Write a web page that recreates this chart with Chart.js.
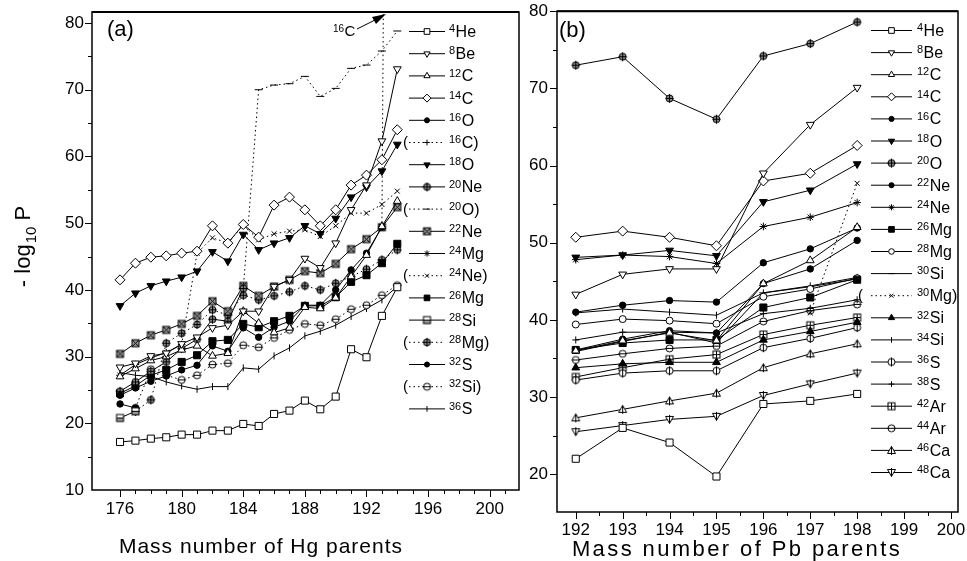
<!DOCTYPE html>
<html>
<head>
<meta charset="utf-8">
<script src="https://cdn.jsdelivr.net/npm/chart.js@4.4.1/dist/chart.umd.min.js"></script>
<style>
  html, body { margin: 0; padding: 0; background: #fff; }
  #wrap { position: relative; width: 967px; height: 561px; overflow: hidden; }
  #ca { position: absolute; left: 0; top: 0; }
  #cb { position: absolute; left: 490px; top: 0; }
</style>
</head>
<body>
<div id="wrap">
  <canvas id="ca" width="525" height="561"></canvas>
  <canvas id="cb" width="477" height="561"></canvas>
</div>
<script>
// ---- panel (a): Hg parents ----
const hgMass = [176,177,178,179,180,181,182,183,184,185,186,187,188,189,190,191,192,193,194];
const hgHe4  = [17.2,17.4,17.7,17.9,18.3,18.3,18.9,18.9,19.9,19.6,21.4,21.9,23.4,22.1,24.0,31.1,29.9,36.1,40.4];
const hgBe8  = [28.4,29.0,30.1,30.5,31.9,32.9,34.3,34.7,36.8,36.8,40.5,41.5,44.7,43.3,47.0,52.0,55.7,62.3,73.1];
const hgC12  = [27.0,28.2,29.4,30.0,31.0,31.6,30.1,30.5,36.8,35.0,33.6,34.3,37.4,37.2,38.8,42.0,45.2,49.5,53.3];
const hgC14  = [41.5,44.0,44.9,45.1,45.5,45.8,49.6,47.0,49.8,47.9,52.7,53.9,52.0,49.6,52.0,55.7,57.2,59.5,64.0];
const hgO16  = [24.2,25.3,26.3,27.1,28.0,28.7,31.6,30.8,34.3,32.9,34.4,35.3,37.7,37.7,40.0,43.0,45.5,49.4,null];
const hgC16  = [null,null,null,null,null,null,null,null,null,null,null,null,null,null,null,null,null,49.4,400];
const hgO18  = [37.6,39.5,40.6,41.3,41.9,42.8,45.7,44.3,48.3,46.0,47.0,47.8,49.6,48.4,50.7,53.9,55.4,57.8,61.8];
const hgNe20 = [24.8,26.2,27.8,29.2,31.2,32.6,35.6,35.3,40.2,null,null,null,null,null,null,null,null,null,null];
const hgO20  = [null,null,null,null,null,null,null,null,40.2,70.0,70.7,70.9,72.0,69.0,70.2,73.2,73.7,75.8,78.8];
const hgNe22 = [30.4,32.0,33.2,34.0,34.9,36.1,38.3,36.8,40.6,39.1,40.5,41.5,42.8,42.5,43.9,46.1,47.6,49.4,52.4];
const hgMg24 = [27.2,28.8,29.8,30.6,31.8,null,null,null,null,null,null,null,null,null,null,null,null,null,null];
const hgNe24 = [null,null,null,null,31.8,45.5,47.8,47.0,49.7,47.5,48.4,48.8,49.0,48.0,49.6,51.5,51.5,52.8,54.8];
const hgMg26 = [24.5,25.6,27.2,28.0,29.2,30.2,32.3,32.5,34.9,34.4,35.3,36.1,37.6,37.6,38.9,41.2,42.2,44.0,46.9];
const hgSi28 = [20.8,21.8,null,null,null,null,null,null,null,null,null,null,null,null,null,null,null,null,null];
const hgMg28 = [null,21.8,23.5,32.0,33.5,34.8,37.0,36.2,39.2,38.5,39.1,39.7,40.6,40.0,41.0,42.0,43.1,44.5,46.0];
const hgS32  = [22.9,22.3,null,null,null,null,null,null,null,null,null,null,null,null,null,null,null,null,null];
const hgSi32 = [null,22.3,28.1,27.2,26.5,27.2,28.8,29.0,31.7,31.4,32.8,34.0,34.9,34.7,35.6,37.1,37.7,39.2,40.7];
const hgS36  = [27.6,27.2,27.0,26.2,25.6,25.1,25.5,25.5,28.3,28.1,30.1,31.3,33.1,33.8,34.7,36.0,37.2,38.5,40.5];
const hgXTicks = [176,180,184,188,192,196,200];
const hgYTicks = [10,20,30,40,50,60,70,80];

// ---- panel (b): Pb parents ----
const pbMass = [192,193,194,195,196,197,198];
const pbHe4  = [22.0,26.0,24.1,19.7,29.1,29.5,30.4];
const pbBe8  = [43.3,45.9,46.6,46.6,59.0,65.3,70.1];
const pbC12  = [36.0,37.3,38.3,37.3,44.7,47.7,52.0];
const pbC14  = [50.7,51.5,50.7,49.6,58.0,59.0,62.6];
const pbC16  = [36.1,37.5,38.6,38.3,44.7,46.6,50.3];
const pbO18  = [48.1,48.4,49.0,48.3,55.3,56.8,60.2];
const pbO20  = [73.0,74.1,68.7,66.0,74.2,75.8,78.6];
const pbNe22 = [41.0,41.9,42.5,42.3,47.4,49.2,51.9];
const pbNe24 = [47.8,48.4,48.2,47.3,52.1,53.3,55.2];
const pbMg26 = [36.1,37.0,37.4,37.4,41.6,42.9,45.2];
const pbMg28 = [39.4,40.1,39.9,39.5,43.0,44.0,45.4];
const pbSi30 = [35.9,37.2,38.4,37.0,43.5,44.3,45.3];
const pbMg30 = [null,null,null,null,null,40.9,57.7];
const pbSi32 = [33.8,34.3,34.5,34.5,37.4,38.5,39.7];
const pbSi34 = [40.9,41.4,41.0,40.6,43.5,44.4,45.5];
const pbS36  = [32.2,33.1,33.4,33.4,36.4,37.6,39.0];
const pbS38  = [37.4,38.4,38.4,38.3,40.8,41.5,42.6];
const pbAr42 = [32.6,33.8,34.9,35.5,38.1,39.3,40.3];
const pbAr44 = [34.8,35.6,36.3,36.6,39.8,41.2,42.0];
const pbCa46 = [27.3,28.4,29.5,30.5,33.8,35.6,36.9];
const pbCa48 = [25.5,26.3,27.1,27.5,30.2,31.7,33.1];
const pbXTicks = [192,193,194,195,196,197,198,199,200];
const pbYTicks = [20,30,40,50,60,70,80];

// label, values, marker kind, bracketed (alternative cluster, dotted)
const hgSeries = [
  ['4He', hgHe4, 'sq', false], ['8Be', hgBe8, 'triD', false], ['12C', hgC12, 'tri', false],
  ['14C', hgC14, 'dia', false], ['16O', hgO16, 'dot', false], ['16C', hgC16, 'plus', true],
  ['18O', hgO18, 'triDF', false], ['20Ne', hgNe20, 'cPlus', false], ['20O', hgO20, 'dash', true],
  ['22Ne', hgNe22, 'sqX', false], ['24Mg', hgMg24, 'star', false], ['24Ne', hgNe24, 'x', true],
  ['26Mg', hgMg26, 'sqF', false], ['28Si', hgSi28, 'sqH', false], ['28Mg', hgMg28, 'cPlus', true],
  ['32S', hgS32, 'dot', false], ['32Si', hgSi32, 'cMinus', true], ['36S', hgS36, 'bar', false]
];
const pbSeries = [
  ['4He', pbHe4, 'sq', false], ['8Be', pbBe8, 'triD', false], ['12C', pbC12, 'tri', false],
  ['14C', pbC14, 'dia', false], ['16C', pbC16, 'dot', false], ['18O', pbO18, 'triDF', false],
  ['20O', pbO20, 'cPlus', false], ['22Ne', pbNe22, 'dot', false], ['24Ne', pbNe24, 'star', false],
  ['26Mg', pbMg26, 'sqF', false], ['28Mg', pbMg28, 'circ', false], ['30Si', pbSi30, 'dash', false],
  ['30Mg', pbMg30, 'x', true], ['32Si', pbSi32, 'triF', false], ['34Si', pbSi34, 'bar', false],
  ['36S', pbS36, 'cBar', false], ['38S', pbS38, 'plus', false], ['42Ar', pbAr42, 'sqPlus', false],
  ['44Ar', pbAr44, 'cMinus', false], ['46Ca', pbCa46, 'triBar', false], ['48Ca', pbCa48, 'triDBar', false]
];

const FONT = '"Liberation Sans", Arial, sans-serif';

// small drawn markers for the symbols Chart.js lacks
function glyph(kind) {
  const s = 11, c = document.createElement('canvas');
  c.width = s; c.height = s;
  const g = c.getContext('2d');
  g.strokeStyle = '#000'; g.lineWidth = 1;
  const m = 5.5;
  if (kind === 'sqX' || kind === 'sqH' || kind === 'sqPlus') {
    g.fillStyle = kind === 'sqX' ? '#999' : '#fff';
    g.fillRect(2, 2, 7, 7);
    if (kind === 'sqH') { g.fillStyle = '#999'; g.fillRect(2, 5.5, 7, 3.5); }
    g.strokeRect(2, 2, 7, 7);
    g.beginPath();
    if (kind === 'sqX') { g.moveTo(2, 2); g.lineTo(9, 9); g.moveTo(9, 2); g.lineTo(2, 9); }
    else if (kind === 'sqH') { g.moveTo(2, 5.5); g.lineTo(9, 5.5); }
    else { g.moveTo(2, 5.5); g.lineTo(9, 5.5); g.moveTo(5.5, 2); g.lineTo(5.5, 9); }
    g.stroke();
  } else if (kind === 'cPlus' || kind === 'cMinus' || kind === 'cBar') {
    g.fillStyle = kind === 'cPlus' ? '#888' : '#fff';
    g.beginPath(); g.arc(m, m, 3.5, 0, Math.PI * 2); g.fill(); g.stroke();
    g.beginPath();
    if (kind !== 'cBar') { g.moveTo(1.5, m); g.lineTo(9.5, m); }
    if (kind !== 'cMinus') { g.moveTo(m, 1); g.lineTo(m, 10); }
    g.stroke();
  } else if (kind === 'triBar' || kind === 'triDBar') {
    const d = kind === 'triBar' ? 1 : -1;
    g.fillStyle = '#fff';
    g.beginPath();
    g.moveTo(m, m - 4 * d); g.lineTo(m + 4, m + 3 * d); g.lineTo(m - 4, m + 3 * d); g.closePath();
    g.fill(); g.stroke();
    g.beginPath(); g.moveTo(m, m - 4 * d); g.lineTo(m, m + 4.5 * d); g.stroke();
  }
  return c;
}

function markerStyle(kind) {
  switch (kind) {
    case 'sq':     return { pointStyle: 'rect', radius: 5, bg: '#fff' };
    case 'sqF':    return { pointStyle: 'rect', radius: 5, bg: '#000' };
    case 'triD':   return { pointStyle: 'triangle', radius: 4.5, rotation: 180, bg: '#fff' };
    case 'triDF':  return { pointStyle: 'triangle', radius: 4.5, rotation: 180, bg: '#000' };
    case 'tri':    return { pointStyle: 'triangle', radius: 4.5, bg: '#fff' };
    case 'triF':   return { pointStyle: 'triangle', radius: 4.5, bg: '#000' };
    case 'dia':    return { pointStyle: 'rectRot', radius: 5, bg: '#fff' };
    case 'dot':    return { pointStyle: 'circle', radius: 3.2, bg: '#000' };
    case 'circ':   return { pointStyle: 'circle', radius: 3.5, bg: '#fff' };
    case 'plus':   return { pointStyle: 'cross', radius: 3.5, bg: '#000' };
    case 'x':      return { pointStyle: 'crossRot', radius: 3.5, bg: '#000' };
    case 'star':   return { pointStyle: 'star', radius: 3.8, bg: '#000' };
    case 'dash':   return { pointStyle: 'line', radius: 4, bg: '#000' };
    case 'bar':    return { pointStyle: 'line', radius: 3.5, rotation: 90, bg: '#000' };
    default:       return { pointStyle: glyph(kind), radius: 4, bg: '#fff' };
  }
}

function buildDatasets(series, xs) {
  return series.map(([label, vals, kind, alt]) => {
    const st = markerStyle(kind);
    return {
      label,
      data: xs.map((x, i) => ({ x, y: vals[i] })),
      borderColor: '#000',
      borderWidth: 1,
      borderDash: alt ? [1.5, 3] : [],
      pointStyle: st.pointStyle,
      pointRadius: st.radius,
      pointRotation: st.rotation || 0,
      pointBackgroundColor: st.bg,
      pointBorderColor: '#000',
      pointBorderWidth: 1,
      spanGaps: false,
      tension: 0
    };
  });
}

function drawIso(ctx, x, y, label, big, small, close) {
  const m = label.match(/^(\d+)(.+)$/);
  ctx.textBaseline = 'alphabetic';
  ctx.textAlign = 'left';
  ctx.font = small + 'px ' + FONT;
  ctx.fillText(m[1], x, y - big * 0.3);
  x += ctx.measureText(m[1]).width + 0.5;
  ctx.font = big + 'px ' + FONT;
  ctx.fillText(m[2] + (close ? ')' : ''), x, y);
}

const decor = {
  id: 'decor',
  afterDraw(chart, args, o) {
    const { ctx, chartArea: a, scales: { x, y } } = chart;
    ctx.save();
    ctx.strokeStyle = '#000';
    ctx.fillStyle = '#000';
    // ticks
    ctx.lineWidth = 1;
    ctx.beginPath();
    for (let v = o.xStart; v <= x.max + 1e-9; v += o.xMinor) {
      const px = Math.round(x.getPixelForValue(v)) + 0.5;
      if (px < a.left || px > a.right) continue;
      const major = Math.abs((v - o.xStart) / o.xMajor - Math.round((v - o.xStart) / o.xMajor)) < 1e-6;
      ctx.moveTo(px, a.bottom); ctx.lineTo(px, a.bottom + (major ? 7 : 4));
    }
    for (let v = o.yStart; v <= y.max + 1e-9; v += o.yMinor) {
      const py = Math.round(y.getPixelForValue(v)) + 0.5;
      if (py < a.top || py > a.bottom) continue;
      const major = Math.abs((v - o.yStart) / o.yMajor - Math.round((v - o.yStart) / o.yMajor)) < 1e-6;
      ctx.moveTo(a.left, py); ctx.lineTo(a.left - (major ? 7 : 4), py);
    }
    ctx.stroke();
    // frame
    ctx.lineWidth = 1.5;
    ctx.strokeRect(a.left, a.top, a.right - a.left, a.bottom - a.top);
    ctx.lineWidth = 2;
    ctx.beginPath(); ctx.moveTo(a.left, a.top); ctx.lineTo(a.right, a.top); ctx.stroke();

    // legend
    const L = o.legend;
    chart.data.datasets.forEach((ds, i) => {
      const yy = L.y0 + i * L.dy;
      const alt = o.series[i][3];
      ctx.lineWidth = 1;
      ctx.setLineDash(alt ? [1.5, 3] : []);
      ctx.beginPath(); ctx.moveTo(L.x0, yy + 0.5); ctx.lineTo(L.x1, yy + 0.5); ctx.stroke();
      ctx.setLineDash([]);
      const st = markerStyle(o.series[i][2]);
      ctx.fillStyle = st.bg;
      Chart.helpers.drawPoint(ctx, {
        pointStyle: st.pointStyle, radius: st.radius * 0.8, rotation: st.rotation || 0, borderWidth: 1
      }, (L.x0 + L.x1) / 2, yy + 0.5);
      ctx.fillStyle = '#000';
      if (alt) {
        ctx.font = '15px ' + FONT; ctx.textBaseline = 'alphabetic'; ctx.textAlign = 'left';
        ctx.fillText('(', L.px, yy + 5);
      }
      drawIso(ctx, L.tx, yy + 6, ds.label, 16, 11, alt);
    });

    // panel tag
    ctx.font = '22px ' + FONT; ctx.textAlign = 'left'; ctx.textBaseline = 'alphabetic';
    ctx.fillText(o.tag.text, o.tag.x, o.tag.y);

    // x axis title
    ctx.font = o.xTitle.size + 'px ' + FONT;
    ctx.textAlign = 'center';
    ctx.letterSpacing = o.xTitle.spacing + 'px';
    ctx.fillText(o.xTitle.text, o.xTitle.x, o.xTitle.y);
    ctx.letterSpacing = '0px';

    if (o.extra) o.extra(ctx);
    ctx.restore();
  }
};

function makeChart(id, series, xs, o) {
  return new Chart(document.getElementById(id), {
    type: 'line',
    data: { datasets: buildDatasets(series, xs) },
    plugins: [decor],
    options: {
      responsive: false,
      animation: false,
      events: [],
      layout: { padding: o.padding },
      plugins: {
        legend: { display: false },
        tooltip: { enabled: false },
        decor: Object.assign({ series }, o.decor)
      },
      scales: {
        x: {
          type: 'linear', min: o.xMin, max: o.xMax,
          afterBuildTicks: s => { s.ticks = o.xTicks.map(v => ({ value: v })); },
          afterFit: s => { s.height = o.xHeight; },
          grid: { display: false }, border: { display: false },
          ticks: { autoSkip: false, maxRotation: 0, padding: o.xPad, color: '#000',
                   font: { family: FONT, size: 17 }, callback: v => String(v) }
        },
        y: {
          type: 'linear', min: o.yMin, max: o.yMax,
          afterBuildTicks: s => { s.ticks = o.yTicks.map(v => ({ value: v })); },
          afterFit: s => { s.width = o.yWidth; },
          grid: { display: false }, border: { display: false },
          ticks: { autoSkip: false, padding: o.yPad, color: '#000',
                   font: { family: FONT, size: 17 }, callback: v => String(v) }
        }
      }
    }
  });
}

makeChart('ca', hgSeries, hgMass, {
  padding: { left: 0, right: 6, top: 12, bottom: 0 },
  xMin: 174.18, xMax: 201.9, yMin: 10, yMax: 81.65,
  xTicks: hgXTicks, yTicks: hgYTicks, xHeight: 71, yWidth: 92, xPad: 1, yPad: 0,
  decor: {
    xStart: 176, xMinor: 1, xMajor: 4, yStart: 10, yMinor: 5, yMajor: 10,
    legend: { x0: 409, x1: 445, px: 403, tx: 449, y0: 31, dy: 22.2 },
    tag: { text: '(a)', x: 107, y: 36 },
    xTitle: { text: 'Mass number of Hg parents', x: 261, y: 553, size: 21, spacing: 1 },
    extra: ctx => {
      // y axis title
      ctx.save();
      ctx.translate(30, 247);
      ctx.rotate(-Math.PI / 2);
      ctx.textAlign = 'left'; ctx.textBaseline = 'alphabetic';
      ctx.font = '22px ' + FONT;
      const p1 = '- log', p3 = ' P';
      const w1 = ctx.measureText(p1).width, w3 = ctx.measureText(p3).width;
      ctx.font = '15px ' + FONT;
      const w2 = ctx.measureText('10').width;
      let x0 = -(w1 + w2 + w3) / 2;
      ctx.font = '22px ' + FONT; ctx.fillText(p1, x0, 0);
      ctx.font = '15px ' + FONT; ctx.fillText('10', x0 + w1 + 1, 6);
      ctx.font = '22px ' + FONT; ctx.fillText(p3, x0 + w1 + w2 + 1, 0);
      ctx.restore();
      // 16C pointer
      drawIso(ctx, 333, 36, '16C', 15, 10, false);
      ctx.lineWidth = 1;
      ctx.beginPath(); ctx.moveTo(357, 29); ctx.lineTo(375, 20); ctx.stroke();
      ctx.beginPath(); ctx.moveTo(386, 14); ctx.lineTo(372, 17); ctx.lineTo(376, 24); ctx.closePath(); ctx.fill();
    }
  }
});

makeChart('cb', pbSeries, pbMass, {
  padding: { left: 0, right: 9, top: 10, bottom: 0 },
  xMin: 191.6, xMax: 200.15, yMin: 15.1, yMax: 80,
  xTicks: pbXTicks, yTicks: pbYTicks, xHeight: 49, yWidth: 67, xPad: 0, yPad: 1,
  decor: {
    xStart: 192, xMinor: 0.5, xMajor: 1, yStart: 20, yMinor: 5, yMajor: 10,
    legend: { x0: 381, x1: 422, px: 368, tx: 427, y0: 30, dy: 22.1 },
    tag: { text: '(b)', x: 69, y: 37 },
    xTitle: { text: 'Mass number of Pb parents', x: 247, y: 556, size: 22, spacing: 2.4 }
  }
});
</script>
</body>
</html>
